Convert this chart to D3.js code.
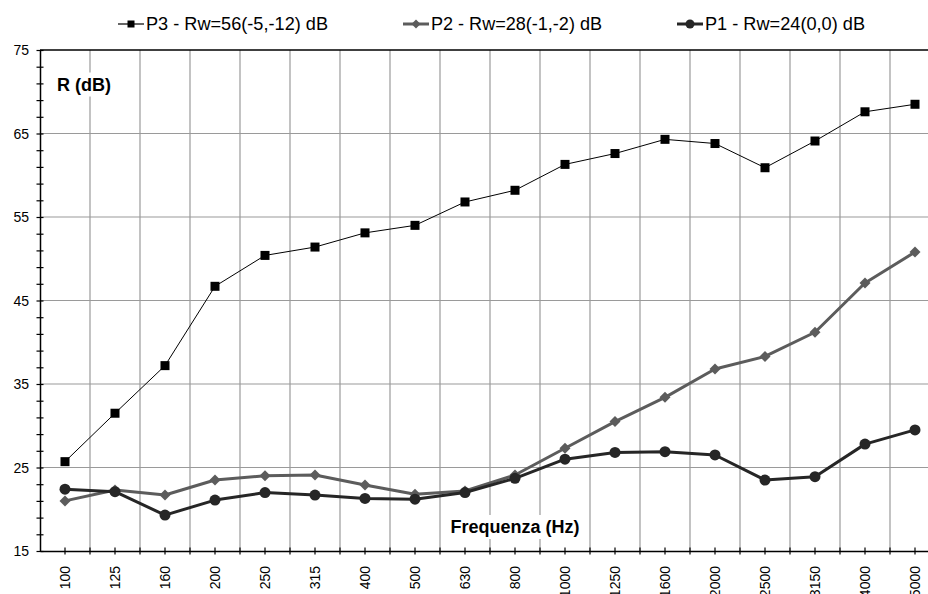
<!DOCTYPE html>
<html>
<head>
<meta charset="utf-8">
<script src="https://cdn.jsdelivr.net/npm/d3@7"></script>
<style>
  body { margin: 0; background: #fff; }
  svg { display: block; font-family: Arial, "Liberation Sans", sans-serif; }
</style>
</head>
<body>
<svg id="chart" width="928" height="594"></svg>
<script>
const freqs = ["100","125","160","200","250","315","400","500","630","800","1000","1250","1600","2000","2500","3150","4000","5000"];
const p3 = [25.7, 31.5, 37.2, 46.7, 50.4, 51.4, 53.1, 54.0, 56.8, 58.2, 61.3, 62.6, 64.3, 63.8, 60.9, 64.1, 67.6, 68.5];
const p2 = [21.0, 22.3, 21.7, 23.5, 24.0, 24.1, 22.9, 21.8, 22.2, 24.1, 27.3, 30.5, 33.4, 36.8, 38.3, 41.2, 47.1, 50.8];
const p1 = [22.4, 22.1, 19.3, 21.1, 22.0, 21.7, 21.3, 21.2, 22.0, 23.7, 26.0, 26.8, 26.9, 26.5, 23.5, 23.9, 27.8, 29.5];
const yMajor = [15, 25, 35, 45, 55, 65, 75];
const legendLabels = ["P3 - Rw=56(-5,-12) dB", "P2 - Rw=28(-1,-2) dB", "P1 - Rw=24(0,0) dB"];

const svg = d3.select("#chart");
const mLeft = 40, mRight = 940, mTop = 50, mBottom = 551;

const x = d3.scaleBand().domain(freqs).range([mLeft, mRight]);
const y = d3.scaleLinear().domain([15, 75]).range([mBottom, mTop]);

// griglia
const g = svg.append("g");
g.selectAll(".vg")
  .data(freqs)
  .join("line")
  .attr("x1", (d, i) => mLeft + (i + 1) * x.bandwidth())
  .attr("x2", (d, i) => mLeft + (i + 1) * x.bandwidth())
  .attr("y1", mTop).attr("y2", mBottom)
  .attr("stroke", "#9a9a9a").attr("stroke-width", 1.2);
g.selectAll(".hg")
  .data(yMajor.slice(1, -1))
  .join("line")
  .attr("x1", mLeft).attr("x2", mRight)
  .attr("y1", d => y(d)).attr("y2", d => y(d))
  .attr("stroke", "#9a9a9a").attr("stroke-width", 1.2);

// bordo superiore
svg.append("line")
  .attr("x1", mLeft).attr("x2", mRight)
  .attr("y1", y(75)).attr("y2", y(75))
  .attr("stroke", "#000").attr("stroke-width", 1.5);

// etichette con sfondo bianco
function boxLabel(txt, tx, ty, anchor) {
  const t = svg.append("text")
    .attr("x", tx).attr("y", ty)
    .attr("text-anchor", anchor)
    .attr("font-weight", "bold")
    .attr("font-size", 18)
    .text(txt);
  const b = t.node().getBBox();
  svg.insert("rect", "text")
    .attr("x", b.x - 4).attr("y", b.y - 2)
    .attr("width", b.width + 8).attr("height", b.height + 4)
    .attr("fill", "#fff");
}
boxLabel("R (dB)", 57, 90.5, "start");
boxLabel("Frequenza (Hz)", 515, 533, "middle");

// asse y
const yAxis = d3.axisLeft(y)
  .tickValues(d3.range(15, 76, 2))
  .tickSize(0)
  .tickFormat("");
const ya = svg.append("g").attr("transform", `translate(${mLeft},0)`).call(yAxis);
ya.select(".domain").attr("stroke", "#000").attr("stroke-width", 1.5);
ya.selectAll(".tick line").attr("x1", -3.5).attr("x2", 3.5).attr("stroke", "#000").attr("stroke-width", 1.2);
svg.selectAll(".ylab")
  .data(yMajor)
  .join("text")
  .attr("x", 29).attr("y", d => y(d))
  .attr("dy", "0.36em")
  .attr("text-anchor", "end")
  .attr("font-size", 14)
  .text(d => d);

// asse x
const xAxis = d3.axisBottom(x).tickSize(0).tickFormat("");
const xa = svg.append("g").attr("transform", `translate(0,${mBottom})`).call(xAxis);
xa.select(".domain").attr("stroke", "#000").attr("stroke-width", 1.5);
xa.selectAll(".tick line").attr("y1", -3.5).attr("y2", 3.5).attr("stroke", "#000").attr("stroke-width", 1.2);
xa.selectAll(".btick")
  .data(freqs)
  .join("line")
  .attr("x1", (d, i) => mLeft + (i + 1) * x.bandwidth())
  .attr("x2", (d, i) => mLeft + (i + 1) * x.bandwidth())
  .attr("y1", -3.5).attr("y2", 3.5)
  .attr("stroke", "#000").attr("stroke-width", 1.2);
svg.selectAll(".xlab")
  .data(freqs)
  .join("text")
  .attr("transform", d => `translate(${x(d) + x.bandwidth() / 2},566) rotate(-90)`)
  .attr("dy", "0.36em")
  .attr("text-anchor", "end")
  .attr("font-size", 14)
  .text(d => d);

// serie
const cx = d => x(d) + x.bandwidth() / 2;
const series = [
  { name: "p3", vals: p3, color: "#000", width: 1, marker: "square", size: 9 },
  { name: "p2", vals: p2, color: "#5c5c5c", width: 3, marker: "diamond", size: 10 },
  { name: "p1", vals: p1, color: "#262626", width: 3, marker: "circle", size: 11 }
];
const line = d3.line().x(d => cx(d[0])).y(d => y(d[1]));

function marker(sel, s, px, py) {
  if (s.marker === "square") {
    sel.append("rect")
      .attr("x", px - s.size / 2).attr("y", py - s.size / 2)
      .attr("width", s.size).attr("height", s.size)
      .attr("fill", s.color);
  } else if (s.marker === "diamond") {
    const r = s.size / 2 + 0.5;
    sel.append("path")
      .attr("d", `M${px},${py - r}L${px + r},${py}L${px},${py + r}L${px - r},${py}Z`)
      .attr("fill", s.color);
  } else {
    sel.append("circle")
      .attr("cx", px).attr("cy", py).attr("r", s.size / 2)
      .attr("fill", s.color);
  }
}

series.forEach(s => {
  const pts = freqs.map((f, i) => [f, s.vals[i]]);
  const sg = svg.append("g");
  sg.append("path")
    .attr("d", line(pts))
    .attr("fill", "none")
    .attr("stroke", s.color)
    .attr("stroke-width", s.width)
    .attr("stroke-linejoin", "round");
  pts.forEach(p => marker(sg, s, cx(p[0]), y(p[1])));
});

// legenda
const legX = [118, 403, 677];
const legW = [182, 171, 160];
series.forEach((s, i) => {
  const lg = svg.append("g");
  lg.append("line")
    .attr("x1", legX[i]).attr("x2", legX[i] + 26)
    .attr("y1", 24).attr("y2", 24)
    .attr("stroke", s.color).attr("stroke-width", s.width === 1 ? 1.2 : 3);
  const ms = Object.assign({}, s, { size: s.size - 2 });
  marker(lg, ms, legX[i] + 13, 24);
  lg.append("text")
    .attr("x", legX[i] + 28).attr("y", 24)
    .attr("dy", "0.36em")
    .attr("font-size", 18)
    .attr("textLength", legW[i])
    .attr("lengthAdjust", "spacingAndGlyphs")
    .text(legendLabels[i]);
});
</script>
</body>
</html>
